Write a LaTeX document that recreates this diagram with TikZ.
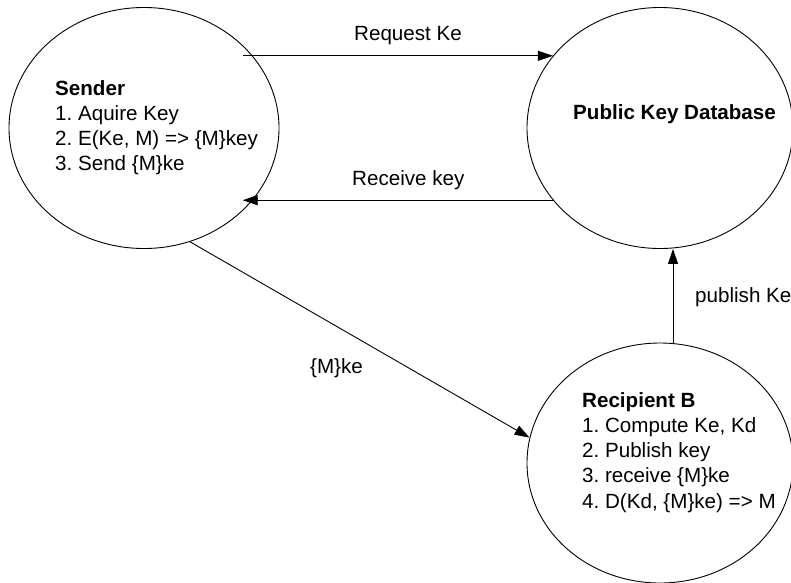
\documentclass[tikz,border=0pt]{standalone}
\usepackage{fontspec}
\setmainfont{Liberation Sans}
\frenchspacing
\usetikzlibrary{arrows.meta,shapes.geometric}
\begin{document}
\begin{tikzpicture}[x=1pt,y=-1pt,
  every node/.style={font=\fontsize{20.6}{24.7}\selectfont},
  blob/.style={draw=black,line width=0.9pt,ellipse,inner sep=0pt},
  txt/.style={inner sep=0pt,anchor=base west,align=left},
  arr/.style={draw=black,line width=0.9pt,-{Triangle[length=15pt,width=10pt]}}]
\useasboundingbox (0,0) rectangle (791,582);
\node[blob,minimum width=270pt,minimum height=241pt] (snd) at (144,128) {};
\node[blob,minimum width=266pt,minimum height=241pt] (pkd) at (660,128) {};
\node[blob,minimum width=266pt,minimum height=240pt] (rcp) at (660,463) {};
\node[txt] (sndt) at (55,170) {\textbf{Sender}\\1. Aquire Key\\2. E(Ke, M) => \{M\}key\\3. Send \{M\}ke};
\node[txt] (pkdt) at (573,119) {\textbf{Public Key Database}};
\node[txt,font=\fontsize{20.6}{25.1}\selectfont] (rcpt) at (582,508) {\textbf{Recipient B}\\1. Compute Ke, Kd\\2. Publish key\\3. receive \{M\}ke\\4. D(Kd, \{M\}ke) => M};
\draw[arr] (pkd.146 -| snd.40) -- (pkd.146);
\draw[arr] (pkd.214) -- (pkd.214 -| snd.320);
\draw[arr] (snd.292) -- (rcp.169);
\draw[arr] ([xshift=13pt]rcp.north) -- ([xshift=13pt]pkd.south);
\node[txt] (lrq) at (354,40) {Request Ke};
\node[txt] (lrc) at (352,185) {Receive key};
\node[txt] (lmk) at (310,373) {\{M\}ke};
\node[txt] (lpb) at (695,302) {publish Ke};
\end{tikzpicture}
\end{document}
